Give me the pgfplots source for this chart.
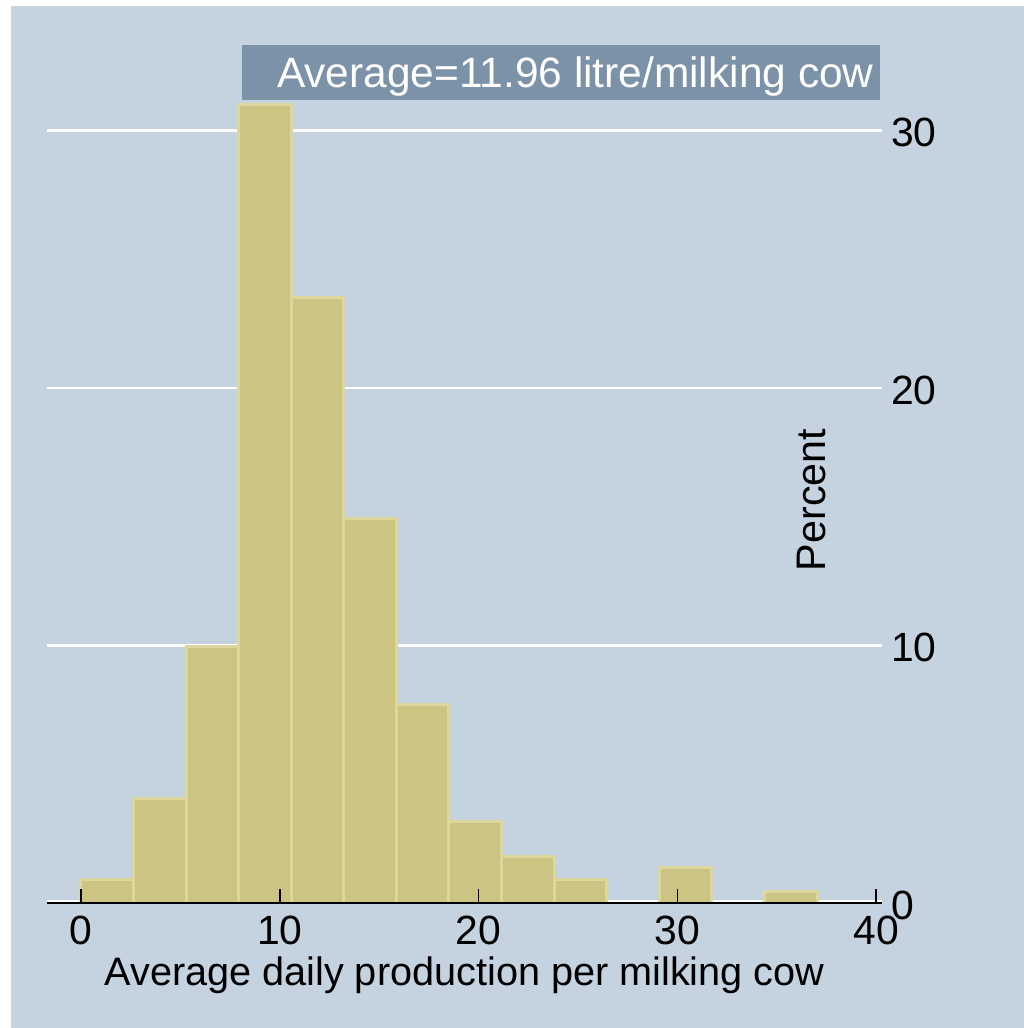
\documentclass[border=0pt]{standalone}
\usepackage{fontspec}
\setmainfont{Liberation Sans}
\usepackage{pgfplots}
\pgfplotsset{compat=1.18}
\definecolor{bgcol}{RGB}{197,210,223}
\definecolor{barfill}{RGB}{203,196,130}
\definecolor{baredge}{RGB}{221,215,157}
\definecolor{boxcol}{RGB}{124,146,168}
\begin{document}
\begin{tikzpicture}
\fill[white] (0,0) rectangle (512bp,514bp);
\fill[bgcol] (5.5bp,0) rectangle (512bp,511bp);
\begin{axis}[
 axis on top,
 scale only axis, width=417.5bp, height=403bp,
 at={(23.5bp,62.5bp)}, anchor=south west,
 xmin=-1.71, xmax=40.3, ymin=0, ymax=31.3,
 axis x line*=bottom, axis y line*=right,
 x axis line style={-, black, line width=0.75bp},
 y axis line style={draw=none},
 xtick={0,10,20,30,40}, ytick={0,10,20,30},
 xtick align=inside, major tick length=7bp,
 xtick style={black, line width=0.75bp},
 ytick style={draw=none},
 tick label style={font=\fontsize{20.5}{20.5}\selectfont},
 /pgf/number format/assume math mode=true,
 xticklabel style={yshift=-3bp},
 yticklabel style={xshift=1bp, yshift=-1bp},
 xlabel={Average daily production per milking cow},
 ylabel={Percent},
 every axis x label/.style={at={(axis description cs:0.5,0)}, anchor=base, yshift=-41bp, font=\fontsize{19.9}{20}\selectfont},
 every axis y label/.style={at={(axis description cs:0.916,0.5)}, rotate=90, anchor=center, font=\fontsize{20.7}{21}\selectfont},
]
\addplot[white, line width=1.2bp, forget plot] coordinates {(-1.71,10) (40.3,10)};
\addplot[white, line width=1.2bp, forget plot] coordinates {(-1.71,20) (40.3,20)};
\addplot[white, line width=1.2bp, forget plot] coordinates {(-1.71,30) (40.3,30)};
\addplot[white, line width=1.2bp, forget plot] coordinates {(-1.71,0.08) (40.3,0.08)};
\addplot[ybar, bar width=2.645, fill=barfill, draw=baredge, line width=1.5bp] coordinates {
 (1.3225,0.90) (3.9675,4.07) (6.6125,9.95) (9.2575,31.0) (11.9025,23.53)
 (14.5475,14.93) (17.1925,7.69) (19.8375,3.17) (22.4825,1.81) (25.1275,0.90)
 (30.4175,1.36) (35.7075,0.45)
};
\end{axis}
\fill[boxcol] (121bp,464bp) rectangle (440bp,491.5bp);
\node[anchor=base east, text=white, inner sep=0pt, font=\fontsize{21.3}{21.3}\selectfont] at (437bp,470bp) {Average=11.96 litre/milking cow};
\end{tikzpicture}
\end{document}
